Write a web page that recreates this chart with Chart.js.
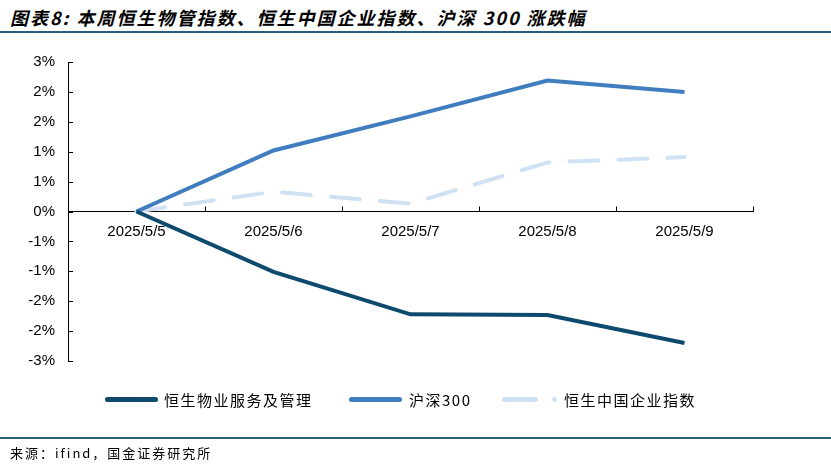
<!DOCTYPE html>
<html>
<head>
<meta charset="utf-8">
<script src="https://cdn.jsdelivr.net/npm/chart.js@4.4.1/dist/chart.umd.min.js"></script>
<style>
  body { margin: 0; background: #fff; width: 831px; height: 466px; overflow: hidden; position: relative; font-family: "Noto Sans CJK SC", sans-serif; }
  #title { position: absolute; left: 10px; top: 4px; font-size: 18px; font-weight: bold; font-style: italic; letter-spacing: 2px; color: #000; white-space: nowrap; }
  .rule { position: absolute; left: 0; width: 831px; height: 2px; background: #2b5d7e; }
  #wrap { position: absolute; left: 0; top: 0; width: 831px; height: 466px; }
  .leg { position: absolute; top: 389px; font-size: 15px; letter-spacing: 1.5px; color: #000; white-space: nowrap; }
  .sw { position: absolute; height: 5px; border-radius: 3px; top: 397px; }
  #source { position: absolute; left: 10px; top: 443px; font-size: 13px; letter-spacing: 2px; color: #000; white-space: nowrap; }
</style>
</head>
<body>
<div id="title">图表8: 本周恒生物管指数、恒生中国企业指数、沪深 300 涨跌幅</div>
<div class="rule" style="top:31px"></div>
<div id="wrap"><canvas id="chart" width="831" height="466"></canvas></div>

<div class="sw" style="left:105px;width:53px;background:#0d4a6e"></div>
<div class="leg" style="left:164px">恒生物业服务及管理</div>
<div class="sw" style="left:349px;width:53px;background:#3f7dbf"></div>
<div class="leg" style="left:409px">沪深300</div>
<div class="sw" style="left:502px;width:36px;background:#d0e1f3"></div>
<div class="sw" style="left:552px;width:5px;background:#d0e1f3"></div>
<div class="leg" style="left:564px">恒生中国企业指数</div>

<div class="rule" style="top:437px"></div>
<div id="source">来源：ifind，国金证券研究所</div>

<script>
const dates = ['2025/5/5', '2025/5/6', '2025/5/7', '2025/5/8', '2025/5/9'];
const hsProperty = [0, -1.01, -1.72, -1.73, -2.20];
const hs300 = [0, 1.02, 1.59, 2.19, 2.00];
const hsChinaEnt = [0, 0.33, 0.13, 0.82, 0.91];

// Excel style tick marks pointing into the plot
const innerTicks = {
    id: 'innerTicks',
    afterDraw(chart) {
        const ctx = chart.ctx;
        const x = chart.scales.x;
        const y = chart.scales.y;
        const y0 = y.getPixelForValue(0);
        ctx.save();
        ctx.strokeStyle = '#000';
        ctx.lineWidth = 1;
        ctx.beginPath();
        for (let i = 0; i <= dates.length; i++) {
            const px = Math.round(x.getPixelForValue(i - 0.5)) + 0.5;
            ctx.moveTo(px, y0);
            ctx.lineTo(px, y0 - 5);
        }
        y.ticks.forEach(t => {
            const py = Math.round(y.getPixelForValue(t.value)) + 0.5;
            ctx.moveTo(x.left, py);
            ctx.lineTo(x.left + 5, py);
        });
        ctx.stroke();
        ctx.restore();
    }
};

new Chart(document.getElementById('chart'), {
    type: 'line',
    data: {
        labels: dates,
        datasets: [
            {
                label: '恒生物业服务及管理',
                data: hsProperty,
                borderColor: '#0d4a6e',
                borderWidth: 4,
                pointRadius: 0,
                tension: 0
            },
            {
                label: '沪深300',
                data: hs300,
                borderColor: '#3f7dbf',
                borderWidth: 4,
                pointRadius: 0,
                tension: 0
            },
            {
                label: '恒生中国企业指数',
                data: hsChinaEnt,
                borderColor: '#d0e1f3',
                borderWidth: 4,
                borderDash: [29, 20],
                borderCapStyle: 'round',
                pointRadius: 0,
                tension: 0
            }
        ]
    },
    options: {
        responsive: false,
        animation: false,
        devicePixelRatio: 1,
        layout: {
            padding: { left: 0, right: 78, top: 62, bottom: 105 }
        },
        plugins: {
            legend: { display: false },
            tooltip: { enabled: false }
        },
        scales: {
            x: {
                type: 'category',
                position: { y: 0 },
                offset: true,
                grid: { display: false, drawTicks: false },
                border: { display: true, color: '#000', width: 1 },
                ticks: {
                    color: '#000',
                    padding: 11,
                    maxRotation: 0,
                    font: { family: 'Liberation Sans, Arial', size: 15 }
                }
            },
            y: {
                min: -2.5,
                max: 2.5,
                afterFit(scale) { scale.width = 68; },
                grid: { display: false, drawTicks: false },
                border: { display: true, color: '#000', width: 1 },
                ticks: {
                    stepSize: 0.5,
                    padding: 13,
                    color: '#000',
                    font: { family: 'Liberation Sans, Arial', size: 15 },
                    callback: v => (v < 0 ? -Math.round(-v) : Math.round(v)) + '%'
                }
            }
        }
    },
    plugins: [innerTicks]
});
</script>
</body>
</html>
